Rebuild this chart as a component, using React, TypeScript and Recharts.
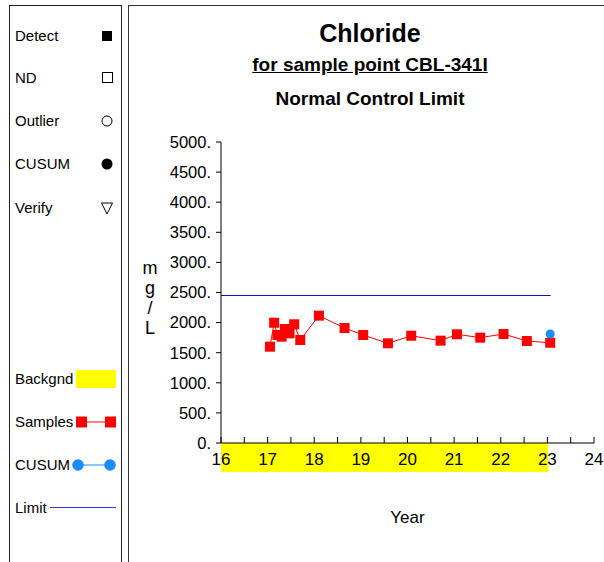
import {
  ComposedChart,
  XAxis,
  YAxis,
  Scatter,
  ReferenceLine,
  ReferenceArea,
} from 'recharts'

// sample dates (decimal years, 2-digit) and chloride results in mg/L
const sampleYears = [
  17.05, 17.14, 17.21, 17.3, 17.37, 17.47, 17.57, 17.7, 18.1, 18.65, 19.05,
  19.58, 20.08, 20.71, 21.06, 21.56, 22.06, 22.56, 23.06,
]
const sampleValues = [
  1600, 1998, 1794, 1766, 1894, 1822, 1972, 1711, 2115, 1910, 1794, 1656,
  1782, 1700, 1806, 1750, 1810, 1694, 1665,
]
const cusumYears = [23.06]
const cusumValues = [1810]

const limitValue = 2450
const limitRange = [16, 23.07]
const backgroundRange = [16, 23.02]

const yearTicks = [16, 16.5, 17, 17.5, 18, 18.5, 19, 19.5, 20, 20.5, 21, 21.5, 22, 22.5, 23, 23.5, 24]
const valueTicks = [0, 500, 1000, 1500, 2000, 2500, 3000, 3500, 4000, 4500, 5000]

const legendTop = ['Detect', 'ND', 'Outlier', 'CUSUM', 'Verify']
const legendBottom = ['Backgnd', 'Samples', 'CUSUM', 'Limit']

const FONT = '"Liberation Sans", Arial, sans-serif'
const RED = '#ff0000'
const BLUE = '#1a8cff'
const LIMIT = '#1010cc'

const samples = sampleYears.map((year, i) => ({ year, value: sampleValues[i] }))
const cusum = cusumYears.map((year, i) => ({ year, value: cusumValues[i] }))

function Square(p: any) {
  return <rect x={p.cx - 5} y={p.cy - 5} width={10} height={10} fill={RED} />
}

function Dot(p: any) {
  return <circle cx={p.cx} cy={p.cy} r={4.5} fill={BLUE} />
}

function YearTick({ x, y, payload }: any) {
  const v = payload.value
  return (
    <g>
      <line x1={x} x2={x} y1={y} y2={y - 6} stroke="#000" />
      {Number.isInteger(v) && (
        <text x={x} y={y + 22} textAnchor="middle" fontSize={17} fill="#000" fontFamily={FONT}>
          {v}
        </text>
      )}
    </g>
  )
}

function Legend() {
  const topY = [36, 78, 121, 164, 208]
  const botY = [379, 422, 465, 508]
  return (
    <svg width={122} height={562} style={{ position: 'absolute', left: 0, top: 0 }}>
      <rect x={9.5} y={5.5} width={112} height={600} fill="none" stroke="#222" />
      {legendTop.map((t, i) => (
        <text key={t + i} x={15} y={topY[i] + 5} fontSize={15} fontFamily={FONT} fill="#000">
          {t}
        </text>
      ))}
      {legendBottom.map((t, i) => (
        <text key={t + i} x={15} y={botY[i] + 5} fontSize={15} fontFamily={FONT} fill="#000">
          {t}
        </text>
      ))}
      <rect x={102} y={31} width={10} height={10} fill="#000" />
      <rect x={102.5} y={72.5} width={10} height={10} fill="none" stroke="#000" />
      <circle cx={107} cy={121} r={5} fill="none" stroke="#000" />
      <circle cx={107} cy={164} r={5.5} fill="#000" />
      <path d="M101.5,203 L112.5,203 L107,214 Z" fill="none" stroke="#000" />
      <rect x={76} y={370} width={40} height={18} fill="#ffff00" />
      <line x1={82} x2={110} y1={422} y2={422} stroke={RED} />
      <rect x={76} y={416.5} width={11} height={11} fill={RED} />
      <rect x={105} y={416.5} width={11} height={11} fill={RED} />
      <line x1={78} x2={110} y1={465} y2={465} stroke="#66b3ff" strokeWidth={1.5} />
      <circle cx={78} cy={465} r={5.8} fill={BLUE} />
      <circle cx={110} cy={465} r={5.8} fill={BLUE} />
      <line x1={50} x2={116} y1={507.5} y2={507.5} stroke="#3535e0" />
    </svg>
  )
}

export default function App() {
  return (
    <div
      style={{
        position: 'fixed',
        left: 0,
        top: 0,
        width: 604,
        height: 562,
        overflow: 'hidden',
        background: '#fff',
        fontFamily: FONT,
      }}
    >
      <Legend />
      <div
        style={{
          position: 'absolute',
          left: 128,
          top: 5,
          width: 600,
          height: 600,
          border: '1px solid #333',
        }}
      />
      <div style={{ position: 'absolute', left: 128, width: 484, top: 17, textAlign: 'center', fontSize: 25, fontWeight: 'bold', lineHeight: '32px' }}>
        Chloride
      </div>
      <div style={{ position: 'absolute', left: 128, width: 484, top: 53, textAlign: 'center', fontSize: 19, fontWeight: 'bold', textDecoration: 'underline', lineHeight: '24px' }}>
        for sample point CBL-341I
      </div>
      <div style={{ position: 'absolute', left: 128, width: 484, top: 87, textAlign: 'center', fontSize: 19, fontWeight: 'bold', lineHeight: '24px' }}>
        Normal Control Limit
      </div>
      <div style={{ position: 'absolute', left: 140, width: 20, top: 258, textAlign: 'center', fontSize: 18, lineHeight: '20px' }}>
        m<br />g<br />/<br />L
      </div>
      <ComposedChart
        width={604}
        height={562}
        style={{ position: 'absolute', left: 0, top: 0 }}
        margin={{ top: 142, right: 10, bottom: 89, left: 161 }}
      >
        <ReferenceArea
          x1={backgroundRange[0]}
          x2={backgroundRange[1]}
          y1={-480}
          y2={0}
          fill="#ffff00"
          fillOpacity={1}
          stroke="none"
          ifOverflow="visible"
        />
        <XAxis
          type="number"
          dataKey="year"
          domain={[16, 24]}
          ticks={yearTicks}
          interval={0}
          height={30}
          tickSize={0}
          tickMargin={0}
          tick={<YearTick />}
          axisLine={{ stroke: '#000' }}
          label={{ value: 'Year', position: 'bottom', offset: 38, fontSize: 17, fill: '#000', fontFamily: FONT }}
        />
        <YAxis
          type="number"
          dataKey="value"
          domain={[0, 5000]}
          ticks={valueTicks}
          interval={0}
          width={60}
          tickSize={5}
          tickMargin={5}
          tickFormatter={(v: number) => `${v}.`}
          tick={{ fontSize: 16.5, fill: '#000', fontFamily: FONT }}
          tickLine={{ stroke: '#000' }}
          axisLine={{ stroke: '#000' }}
        />
        <ReferenceLine
          segment={[
            { x: limitRange[0], y: limitValue },
            { x: limitRange[1], y: limitValue },
          ]}
          stroke={LIMIT}
          strokeWidth={1}
        />
        <Scatter
          data={samples}
          line={{ stroke: RED, strokeWidth: 1 }}
          shape={Square}
          isAnimationActive={false}
        />
        <Scatter data={cusum} shape={Dot} isAnimationActive={false} />
      </ComposedChart>
    </div>
  )
}
